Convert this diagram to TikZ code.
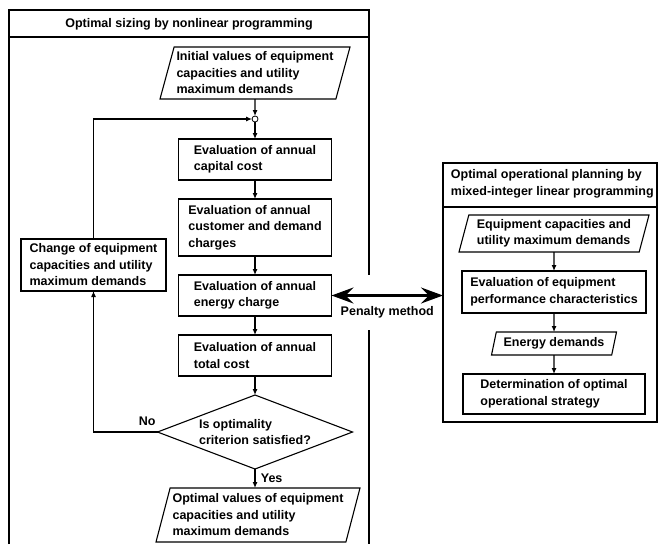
\documentclass[tikz,border=0pt]{standalone}
\usepackage{fontspec}
\setmainfont{Liberation Sans}
\usetikzlibrary{shapes.geometric}
\usetikzlibrary{arrows.meta}
\usetikzlibrary{positioning}

\tikzset{
  procbox/.style={draw, rectangle, align=left, minimum width=153pt, minimum height=41pt, inner sep=2pt, outer sep=0pt},
  iobox/.style={draw, trapezium, trapezium left angle=73, trapezium right angle=107,
                trapezium stretches body, align=left, inner sep=2pt, outer sep=0pt},
  decide/.style={draw, diamond, aspect=2.6, align=left, inner sep=0pt, outer sep=0pt, minimum width=195pt, minimum height=74pt},
  penalty/.style={{Stealth[length=22pt,width=16pt,inset=8pt]}-{Stealth[length=22pt,width=16pt,inset=8pt]}, line width=2.6pt}
}

\begin{document}
\begin{tikzpicture}[x=1pt, y=-1pt, node distance=19pt, >={Latex[length=6pt,width=5pt]}, line width=1.1pt,
                    font=\fontsize{12.5pt}{16.5pt}\selectfont\bfseries]
  \useasboundingbox (0,0) rectangle (658,544);

  % left frame
  \draw (9,544) -- (9,10) -- (369,10) -- (369,275);
  \draw (369,330) -- (369,544);
  \draw (9,37) -- (369,37);
  \node (ltitle) at (189,24) {Optimal sizing by nonlinear programming};

  \node[iobox, minimum width=190pt, minimum height=52pt] (init) at (255,73)
       {Initial values of equipment\\capacities and utility\\maximum demands};
  \node[circle, draw, line width=0.8pt, inner sep=0pt, outer sep=0pt, minimum size=6pt, below=17pt of init] (join) {};
  \node[procbox, below=17pt of join] (capc) {Evaluation of annual\\capital cost};
  \node[procbox, minimum height=57pt, below=of capc] (cust) {Evaluation of annual\\customer and demand\\charges};
  \node[procbox, below=of cust] (ench) {Evaluation of annual\\energy charge};
  \node[procbox, below=of ench] (totc) {Evaluation of annual\\total cost};
  \node[decide, below=of totc] (dia) {Is optimality\\criterion satisfied?};
  \node[iobox, minimum width=204pt, minimum height=54pt, below=of dia, xshift=3pt] (outv)
       {Optimal values of equipment\\capacities and utility\\maximum demands};
  \node[procbox, minimum width=145pt, minimum height=52pt] (chg) at (93.5,265)
       {Change of equipment\\capacities and utility\\maximum demands};

  \path[->] (init) edge (join)
            (join) edge (capc)
            (capc) edge (cust)
            (cust) edge (ench)
            (ench) edge (totc)
            (totc) edge (dia);
  \draw[->] (dia.south) -- node[right, xshift=2pt] {Yes} (dia.south |- outv.north);
  \draw[->] (dia.west) -| node[pos=0.08, above=3pt] {No} (chg.south);
  \draw[->] (chg.north) |- (join.west);

  % right frame
  \draw (443,163) rectangle (657,422);
  \draw (443,207) -- (657,207);
  \coordinate (rfw) at (443,296);
  \node[anchor=west, align=left] (rtitle) at (447,184)
       {Optimal operational planning by\\mixed-integer linear programming};

  \node[iobox, minimum width=190pt, minimum height=37pt] (rin) at (554,233.5)
       {Equipment capacities and\\utility maximum demands};
  \node[procbox, minimum width=184pt, minimum height=42pt, below=of rin] (perf)
       {Evaluation of equipment\\performance characteristics};
  \node[iobox, minimum width=125pt, minimum height=23pt, below=of perf] (edem) {Energy demands};
  \node[procbox, minimum width=182pt, minimum height=40pt, below=of edem] (strat)
       {Determination of optimal\\operational strategy};

  \path[->] (rin) edge (perf)
            (perf) edge (edem)
            (edem) edge (strat);

  \draw[penalty] (ench.east) -- node[below=6pt] {Penalty method} (ench.east -| rfw);
\end{tikzpicture}
\end{document}
